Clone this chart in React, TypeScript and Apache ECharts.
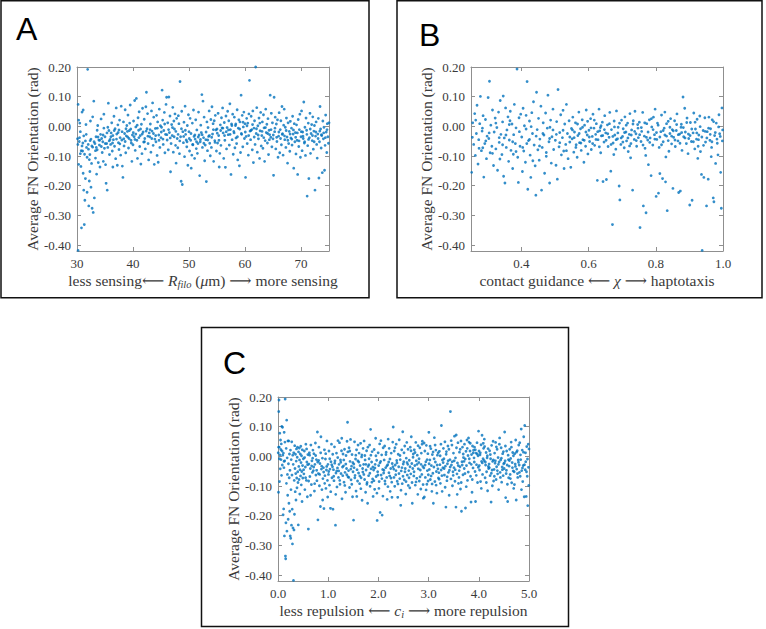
import React, { useEffect, useRef } from 'react';
import * as echarts from 'echarts';

// Panel A: R_filo (µm) vs average FN orientation (rad)
const rfiloPoints: number[][] = [
[30.1,-0.042],[30.2,0.074],[30.3,-0.128],[30.2,-0.418],[30.4,-0.051],[30.5,0.011],[30.6,-0.092],[30.7,-0.135],[30.8,-0.342],[30.9,0.048],[30.9,-0.066],[30.3,0.021],[30.6,-0.018],
[31.0,-0.083],[31.1,-0.158],[31.2,-0.032],[31.3,-0.331],[31.4,-0.249],[31.5,-0.176],[31.6,0.006],[31.7,-0.071],[31.8,-0.104],[31.9,0.192],[31.2,-0.215],[31.5,-0.049],[31.8,-0.222],[31.1,0.055],
[32.0,-0.061],[32.1,-0.268],[32.2,-0.184],[32.3,-0.095],[32.4,0.018],[32.5,-0.043],[32.6,-0.125],[32.7,-0.276],[32.8,-0.07],[32.9,-0.29],[32.2,-0.112],[32.5,-0.205],[32.8,0.032],[32.3,-0.152],
[33.0,0.085],[33.1,-0.241],[33.2,-0.058],[33.3,-0.107],[33.4,-0.035],[33.5,-0.161],[33.6,-0.079],[33.7,0.003],[33.8,-0.122],[33.9,-0.046],[33.3,-0.082],[33.6,-0.013],
[34.0,-0.063],[34.1,-0.137],[34.2,-0.027],[34.3,0.025],[34.5,-0.088],[34.6,-0.052],[34.7,-0.118],[34.8,-0.006],[34.9,-0.074],[34.4,-0.041],[34.8,0.041],
[35.0,-0.035],[35.2,-0.192],[35.3,-0.058],[35.4,-0.215],[35.5,-0.071],[35.6,0.078],[35.7,-0.014],[35.8,-0.095],[35.9,-0.044],[35.1,-0.129],[35.5,-0.003],
[36.0,-0.061],[36.1,-0.022],[36.2,0.012],[36.3,-0.083],[36.4,-0.137],[36.5,-0.045],[36.6,0.034],[36.7,-0.067],[36.8,-0.008],[36.9,-0.109],[36.4,-0.031],
[37.0,0.062],[37.1,-0.026],[37.2,-0.131],[37.3,0.005],[37.4,-0.055],[37.5,-0.078],[37.6,0.021],[37.7,-0.038],[37.8,-0.097],[37.9,0.068],[37.5,-0.012],
[38.0,-0.046],[38.2,-0.172],[38.3,0.015],[38.4,-0.066],[38.5,-0.024],[38.6,0.056],[38.7,-0.089],[38.8,-0.032],[38.9,0.003],[38.1,-0.134],[38.6,-0.051],
[39.0,-0.017],[39.1,0.038],[39.2,-0.073],[39.3,-0.041],[39.5,0.072],[39.6,-0.009],[39.7,-0.056],[39.8,-0.118],[39.9,-0.029],[39.4,0.011],
[40.0,-0.062],[40.1,0.018],[40.2,-0.035],[40.3,0.087],[40.4,-0.081],[40.5,-0.002],[40.6,0.094],[40.7,-0.047],[40.8,-0.108],[40.9,0.029],[40.5,-0.026],
[41.0,-0.013],[41.1,0.049],[41.2,-0.068],[41.3,-0.031],[41.5,0.007],[41.6,-0.092],[41.7,0.061],[41.8,-0.019],[41.9,-0.053],[41.4,-0.127],
[42.0,0.024],[42.1,-0.041],[42.2,-0.076],[42.4,0.115],[42.5,-0.008],[42.6,0.043],[42.7,-0.058],[42.8,-0.113],[42.9,-0.022],[42.3,0.066],
[43.0,-0.035],[43.1,0.008],[43.2,-0.087],[43.3,0.052],[43.4,-0.016],[43.6,-0.064],[43.7,0.031],[43.8,-0.128],[43.9,-0.043],[43.5,0.079],
[44.0,-0.007],[44.1,-0.052],[44.2,0.037],[44.3,-0.098],[44.4,0.015],[44.6,-0.029],[44.7,0.058],[44.8,-0.071],[44.9,0.002],[44.5,-0.121],
[45.0,-0.038],[45.2,0.122],[45.3,0.021],[45.4,-0.061],[45.5,-0.014],[45.6,0.047],[45.7,-0.089],[45.8,-0.027],[45.9,0.074],[45.1,-0.003],
[46.0,0.098],[46.1,-0.046],[46.2,0.012],[46.3,-0.079],[46.4,0.099],[46.5,-0.021],[46.6,0.035],[46.7,-0.153],[46.8,-0.058],[46.9,0.006],
[47.0,-0.031],[47.1,0.064],[47.2,-0.087],[47.3,0.018],[47.4,-0.009],[47.5,0.042],[47.6,-0.064],[47.7,-0.124],[47.8,0.027],[47.9,-0.041],
[48.0,-0.072],[48.2,0.009],[48.4,0.151],[48.5,-0.035],[48.6,-0.185],[48.7,0.051],[48.8,-0.196],[48.9,-0.018],[48.3,-0.092],[48.1,0.036],
[49.0,-0.055],[49.1,0.014],[49.2,-0.102],[49.3,0.068],[49.4,-0.027],[49.6,-0.069],[49.7,0.003],[49.8,-0.131],[49.9,0.039],[49.5,-0.046],
[50.0,-0.018],[50.1,-0.083],[50.2,0.027],[50.3,-0.047],[50.4,-0.141],[50.6,0.011],[50.7,-0.062],[50.8,0.055],[50.9,-0.034],[50.5,-0.097],
[51.0,-0.108],[51.1,-0.043],[51.2,0.022],[51.3,-0.075],[51.4,-0.012],[51.6,-0.058],[51.7,0.048],[51.8,-0.029],[51.9,-0.166],[51.5,-0.091],
[52.0,-0.052],[52.1,0.004],[52.3,0.107],[52.4,-0.071],[52.5,0.085],[52.6,-0.038],[52.7,0.031],[52.8,-0.116],[52.9,-0.063],[52.2,-0.021],
[53.0,-0.045],[53.1,-0.186],[53.2,0.015],[53.3,-0.082],[53.4,-0.004],[53.6,0.052],[53.7,-0.057],[53.8,-0.099],[53.9,0.023],[53.5,-0.034],
[54.0,-0.071],[54.1,0.066],[54.2,-0.026],[54.3,0.009],[54.4,-0.118],[54.6,-0.048],[54.7,0.037],[54.8,-0.012],[54.9,-0.083],[54.5,0.019],
[55.0,-0.009],[55.1,-0.056],[55.2,0.044],[55.3,-0.031],[55.4,-0.137],[55.6,0.005],[55.7,-0.064],[55.8,0.029],[55.9,-0.005],[55.5,-0.091],
[56.0,0.062],[56.1,-0.022],[56.2,-0.108],[56.3,0.013],[56.4,-0.047],[56.6,0.035],[56.7,-0.076],[56.8,-0.004],[56.9,0.051],[56.5,-0.138],
[57.0,-0.028],[57.1,0.019],[57.2,-0.063],[57.3,0.076],[57.4,-0.011],[57.5,-0.162],[57.6,0.008],[57.7,-0.045],[57.8,0.041],[57.9,-0.094],
[58.0,-0.017],[58.1,0.031],[58.2,-0.072],[58.3,0.003],[58.4,-0.039],[58.6,0.056],[58.7,-0.113],[58.8,-0.006],[58.9,0.022],[58.5,-0.058],
[59.0,-0.133],[59.1,0.015],[59.3,0.105],[59.4,-0.027],[59.5,0.037],[59.6,-0.069],[59.7,-0.002],[59.8,0.048],[59.9,-0.041],[59.2,-0.088],
[60.0,0.009],[60.1,-0.172],[60.2,-0.034],[60.3,0.027],[60.4,-0.058],[60.5,0.011],[60.6,-0.097],[60.8,0.155],[60.9,-0.016],[60.7,0.042],
[61.0,-0.045],[61.1,0.034],[61.2,-0.011],[61.3,-0.079],[61.4,0.052],[61.5,-0.122],[61.6,-0.006],[61.7,0.019],[61.9,0.2],[61.8,-0.061],
[62.0,-0.024],[62.1,0.063],[62.2,-0.087],[62.3,0.002],[62.4,-0.042],[62.5,0.028],[62.6,-0.108],[62.7,-0.015],[62.8,0.047],[62.9,-0.066],
[63.0,-0.031],[63.1,0.015],[63.2,-0.074],[63.3,0.039],[63.4,-0.005],[63.5,-0.118],[63.6,-0.048],[63.7,0.058],[63.8,-0.021],[63.9,0.007],
[64.0,-0.056],[64.1,0.026],[64.2,-0.095],[64.3,-0.013],[64.5,0.105],[64.6,-0.037],[64.7,0.044],[64.8,-0.069],[64.9,0.012],[64.4,-0.028],
[65.0,-0.042],[65.1,-0.165],[65.2,0.098],[65.3,-0.018],[65.4,0.031],[65.5,-0.076],[65.6,0.008],[65.7,-0.051],[65.8,0.022],[65.9,-0.104],
[66.0,-0.033],[66.1,0.046],[66.2,-0.089],[66.3,-0.011],[66.4,0.019],[66.5,-0.062],[66.6,0.067],[66.7,-0.025],[66.8,-0.097],[66.9,0.004],
[67.0,0.058],[67.1,-0.045],[67.2,-0.003],[67.3,-0.071],[67.4,0.028],[67.5,-0.036],[67.6,-0.124],[67.7,0.012],[67.8,-0.058],[67.9,-0.017],
[68.0,-0.084],[68.1,0.017],[68.2,-0.039],[68.3,-0.006],[68.4,-0.063],[68.5,0.034],[68.6,-0.026],[68.7,-0.141],[68.8,0.009],[68.9,-0.052],
[69.0,-0.021],[69.1,-0.093],[69.2,0.005],[69.3,-0.047],[69.4,-0.162],[69.5,0.023],[69.6,-0.068],[69.7,-0.011],[69.8,0.041],[69.9,-0.104],
[70.0,-0.035],[70.1,0.052],[70.2,-0.082],[70.3,-0.019],[70.5,0.082],[70.6,-0.056],[70.7,-0.003],[70.8,-0.098],[70.9,0.028],[70.4,-0.041],
[71.0,-0.013],[71.1,-0.235],[71.2,-0.065],[71.3,0.011],[71.4,-0.176],[71.5,-0.038],[71.6,0.044],[71.7,-0.091],[71.8,-0.024],[71.9,0.006],
[72.0,-0.048],[72.1,0.032],[72.2,-0.077],[72.3,-0.016],[72.5,-0.215],[72.6,-0.033],[72.7,0.015],[72.8,-0.061],[72.9,-0.107],[72.4,0.003],
[73.0,-0.026],[73.1,0.027],[73.2,-0.174],[73.3,-0.052],[73.4,0.067],[73.5,-0.009],[73.6,-0.073],[73.7,-0.031],[73.8,-0.156],[73.9,0.018],
[74.0,-0.042],[74.1,-0.003],[74.2,-0.148],[74.3,-0.064],[74.4,0.038],[74.5,-0.019],[74.6,-0.088],[74.7,0.009],[74.8,-0.035],[74.9,-0.057],[75.0,0.012],
[30.15,-0.061],[30.45,-0.038],[30.75,-0.082],[31.05,-0.056],[31.35,-0.094],[31.65,-0.027],[32.05,-0.077],[32.35,-0.048],[32.65,-0.066],
[33.05,-0.052],[33.45,-0.071],[33.75,-0.036],[34.05,-0.047],[34.35,-0.068],[34.65,-0.029],[35.05,-0.058],[35.35,-0.022],[35.75,-0.049],
[36.05,-0.035],[36.35,-0.056],[36.65,-0.014],[37.05,-0.043],[37.35,-0.021],[37.65,-0.059],[38.05,-0.018],[38.35,-0.042],[38.75,-0.008],
[39.05,-0.036],[39.35,-0.014],[39.65,-0.047],[40.05,-0.021],[40.35,-0.044],[40.75,0.004],[41.05,-0.038],[41.35,-0.009],[41.65,-0.026],
[42.05,-0.052],[42.35,-0.016],[42.65,-0.033],[43.05,-0.011],[43.35,-0.041],[43.65,-0.024],[44.05,-0.031],[44.35,-0.006],[44.65,-0.047],
[45.05,-0.019],[45.35,-0.043],[45.65,0.008],[46.05,-0.028],[46.35,-0.011],[46.65,-0.039],[47.05,-0.004],[47.35,-0.035],[47.65,-0.017],
[48.05,-0.027],[48.35,-0.049],[48.65,-0.008],[49.05,-0.034],[49.35,-0.013],[49.65,-0.052],[50.05,-0.041],[50.35,-0.024],[50.65,-0.061],
[51.05,-0.029],[51.35,-0.052],[51.65,-0.036],[52.05,-0.044],[52.35,-0.028],[52.65,-0.057],[53.05,-0.019],[53.35,-0.046],[53.65,-0.031],
[54.05,-0.037],[54.35,-0.011],[54.65,-0.054],[55.05,-0.023],[55.35,-0.047],[55.65,-0.014],[56.05,-0.006],[56.35,-0.031],[56.65,-0.018],
[57.05,-0.012],[57.35,-0.027],[57.65,0.003],[58.05,-0.022],[58.35,0.008],[58.65,-0.035],[59.05,-0.009],[59.35,-0.024],[59.65,0.014],
[60.05,-0.019],[60.35,0.002],[60.65,-0.031],[61.05,-0.014],[61.35,0.006],[61.65,-0.036],[62.05,-0.008],[62.35,-0.029],[62.65,0.011],
[63.05,-0.017],[63.35,-0.038],[63.65,-0.004],[64.05,-0.024],[64.35,-0.045],[64.65,-0.011],[65.05,-0.029],[65.35,-0.006],[65.65,-0.037],
[66.05,-0.019],[66.35,-0.041],[66.65,-0.027],[67.05,-0.032],[67.35,-0.014],[67.65,-0.047],[68.05,-0.026],[68.35,-0.043],[68.65,-0.012],
[69.05,-0.037],[69.35,-0.022],[69.65,-0.049],[70.05,-0.018],[70.35,-0.033],[70.65,-0.052],[71.05,-0.027],[71.35,-0.044],[71.65,-0.009],
[72.05,-0.031],[72.35,-0.052],[72.65,-0.019],[73.05,-0.041],[73.35,-0.016],[73.65,-0.028],[74.05,-0.022],[74.35,-0.038],[74.65,-0.011]
];

// Panel B: chi vs average FN orientation (rad)
const chiPoints: number[][] = [
[0.252,-0.155],[0.255,0.012],[0.258,-0.061],[0.261,0.043],[0.263,-0.098],[0.266,-0.024],[0.268,0.071],[0.271,-0.127],[0.273,-0.045],[0.276,0.009],[0.278,0.101],[0.281,-0.082],[0.283,-0.016],[0.286,0.036],[0.288,-0.171],[0.291,-0.058],[0.293,0.023],[0.296,-0.109],[0.298,-0.033],[0.285,-0.072],
[0.254,-0.037],[0.264,0.021],[0.274,-0.074],[0.284,-0.006],[0.294,-0.049],
[0.301,0.097],[0.303,-0.041],[0.305,0.152],[0.307,-0.089],[0.309,0.004],[0.312,-0.067],[0.314,0.055],[0.317,-0.132],[0.319,-0.019],[0.322,0.028],[0.324,-0.076],[0.327,-0.004],[0.329,-0.148],[0.332,0.048],[0.334,-0.054],[0.337,0.087],[0.339,-0.027],[0.342,-0.095],[0.344,0.015],[0.347,-0.168],[0.349,-0.039],[0.346,0.102],[0.336,-0.11],
[0.304,-0.022],[0.314,-0.091],[0.324,0.011],[0.334,-0.038],[0.344,-0.062],
[0.351,-0.191],[0.353,0.062],[0.355,-0.071],[0.357,-0.012],[0.36,0.032],[0.362,-0.118],[0.364,-0.046],[0.367,0.051],[0.369,-0.081],[0.372,0.008],[0.374,-0.142],[0.377,-0.028],[0.379,0.074],[0.382,-0.058],[0.384,-0.005],[0.387,0.193],[0.389,-0.104],[0.391,-0.189],[0.393,0.029],[0.396,-0.067],[0.398,0.041],[0.376,-0.094],[0.366,0.019],
[0.354,-0.029],[0.364,0.006],[0.374,-0.052],[0.384,-0.085],[0.394,-0.018],
[0.401,-0.036],[0.403,-0.152],[0.405,0.061],[0.407,-0.083],[0.409,0.002],[0.412,-0.121],[0.414,0.037],[0.417,0.151],[0.419,-0.212],[0.421,-0.048],[0.424,0.018],[0.426,-0.097],[0.428,-0.172],[0.431,0.046],[0.433,-0.024],[0.436,0.083],[0.438,-0.063],[0.441,-0.133],[0.443,-0.232],[0.445,0.115],[0.447,-0.011],[0.449,-0.079],[0.429,-0.001],[0.416,-0.058],
[0.404,-0.071],[0.414,-0.009],[0.424,-0.044],[0.434,-0.116],[0.444,-0.033],
[0.451,0.027],[0.453,-0.114],[0.455,-0.043],[0.458,0.068],[0.46,-0.215],[0.462,-0.071],[0.465,0.012],[0.467,-0.029],[0.469,-0.158],[0.472,0.045],[0.474,-0.088],[0.477,-0.006],[0.479,0.105],[0.482,-0.052],[0.484,-0.191],[0.487,0.021],[0.489,-0.124],[0.491,-0.035],[0.494,0.058],[0.496,-0.078],[0.498,0.203],[0.485,-0.003],
[0.454,-0.066],[0.464,-0.024],[0.474,-0.101],[0.484,-0.041],[0.494,-0.012],
[0.501,-0.047],[0.503,-0.131],[0.505,0.016],[0.507,-0.178],[0.509,0.124],[0.512,-0.069],[0.514,-0.021],[0.517,0.039],[0.519,-0.096],[0.522,-0.038],[0.524,0.054],[0.527,-0.142],[0.529,0.008],[0.532,-0.061],[0.534,0.074],[0.537,-0.024],[0.539,-0.109],[0.542,0.019],[0.544,-0.053],[0.547,-0.138],[0.549,-0.007],[0.526,-0.083],
[0.504,-0.027],[0.514,-0.055],[0.524,-0.013],[0.534,-0.082],[0.544,-0.036],
[0.551,-0.042],[0.553,0.031],[0.556,-0.087],[0.558,-0.019],[0.561,0.012],[0.563,-0.062],[0.566,-0.104],[0.568,-0.031],[0.571,0.048],[0.573,-0.055],[0.576,-0.008],[0.578,-0.081],[0.581,0.022],[0.583,-0.045],[0.586,-0.121],[0.588,0.004],[0.591,-0.067],[0.593,0.055],[0.596,-0.029],[0.598,-0.093],
[0.552,-0.012],[0.557,-0.038],[0.562,-0.071],[0.567,0.008],[0.572,-0.024],[0.577,-0.056],[0.582,-0.003],[0.587,-0.047],[0.592,-0.019],[0.597,0.017],
[0.601,-0.013],[0.603,-0.051],[0.606,0.026],[0.608,-0.078],[0.611,-0.034],[0.613,0.041],[0.616,-0.006],[0.618,-0.064],[0.621,-0.027],[0.623,0.009],[0.626,-0.182],[0.628,-0.045],[0.631,0.058],[0.633,-0.015],[0.636,-0.089],[0.638,-0.032],[0.641,0.014],[0.643,-0.186],[0.646,-0.053],[0.648,0.036],[0.635,-0.004],
[0.602,-0.036],[0.607,-0.005],[0.612,-0.058],[0.617,0.021],[0.622,-0.044],[0.627,-0.018],[0.632,-0.069],[0.637,0.002],[0.642,-0.031],[0.647,-0.011],
[0.651,-0.022],[0.653,-0.179],[0.656,0.005],[0.658,-0.068],[0.661,-0.037],[0.663,0.047],[0.666,-0.151],[0.668,-0.011],[0.671,-0.331],[0.673,-0.056],[0.676,0.018],[0.678,-0.029],[0.681,-0.077],[0.683,0.052],[0.686,-0.042],[0.688,-0.003],[0.691,-0.201],[0.693,-0.248],[0.696,-0.061],[0.698,0.021],[0.675,-0.095],
[0.652,-0.047],[0.657,-0.025],[0.662,0.009],[0.667,-0.061],[0.672,-0.034],[0.677,-0.002],[0.682,-0.045],[0.687,-0.022],[0.692,0.011],[0.697,-0.039],
[0.701,-0.034],[0.703,-0.008],[0.706,-0.072],[0.708,0.032],[0.711,-0.019],[0.713,-0.049],[0.716,0.011],[0.718,-0.085],[0.721,-0.027],[0.723,0.043],[0.726,-0.058],[0.728,-0.012],[0.731,-0.215],[0.733,0.019],[0.736,-0.044],[0.738,0.051],[0.741,-0.025],[0.743,-0.067],[0.746,0.006],[0.748,-0.038],[0.725,-0.106],
[0.702,-0.053],[0.707,-0.021],[0.712,0.004],[0.717,-0.039],[0.722,-0.066],[0.727,-0.029],[0.732,0.008],[0.737,-0.017],[0.742,-0.048],[0.747,-0.006],
[0.751,0.014],[0.753,-0.341],[0.756,-0.051],[0.758,-0.017],[0.761,0.047],[0.763,-0.268],[0.766,-0.033],[0.768,-0.074],[0.771,-0.291],[0.773,0.009],[0.776,-0.046],[0.778,-0.129],[0.781,0.022],[0.783,-0.039],[0.786,-0.166],[0.788,-0.002],[0.791,-0.063],[0.793,0.031],[0.796,-0.028],[0.798,0.058],[0.77,-0.098],
[0.752,-0.028],[0.757,-0.004],[0.762,-0.063],[0.767,0.012],[0.772,-0.037],[0.777,-0.019],[0.782,-0.054],[0.787,0.026],[0.792,-0.011],[0.797,-0.043],
[0.801,-0.236],[0.803,-0.044],[0.805,0.011],[0.808,-0.225],[0.81,-0.071],[0.812,-0.159],[0.815,-0.018],[0.817,0.038],[0.82,-0.176],[0.822,-0.052],[0.825,-0.006],[0.827,0.048],[0.829,-0.187],[0.832,-0.033],[0.834,-0.284],[0.837,0.017],[0.839,-0.084],[0.842,-0.024],[0.844,0.026],[0.847,-0.059],[0.849,-0.011],[0.83,-0.103],
[0.802,-0.021],[0.807,0.004],[0.812,-0.036],[0.817,-0.062],[0.822,-0.014],[0.827,-0.029],[0.832,0.009],[0.837,-0.048],[0.842,-0.003],[0.847,-0.033],
[0.851,-0.209],[0.853,-0.037],[0.856,0.019],[0.858,-0.068],[0.861,-0.014],[0.863,0.042],[0.866,-0.049],[0.868,-0.223],[0.871,-0.026],[0.873,-0.218],[0.876,0.007],[0.878,-0.081],[0.881,0.099],[0.883,-0.035],[0.886,0.061],[0.888,-0.019],[0.891,-0.058],[0.893,0.028],[0.896,-0.092],[0.898,-0.041],[0.875,-0.003],
[0.852,-0.015],[0.857,-0.046],[0.862,0.006],[0.867,-0.028],[0.872,-0.057],[0.877,-0.021],[0.882,-0.004],[0.887,-0.039],[0.892,0.013],[0.897,-0.026],
[0.901,-0.265],[0.903,0.013],[0.906,-0.051],[0.908,-0.249],[0.911,-0.022],[0.913,0.045],[0.916,-0.076],[0.918,-0.009],[0.921,-0.043],[0.923,0.024],[0.926,-0.067],[0.928,-0.029],[0.931,0.035],[0.933,-0.085],[0.936,-0.162],[0.938,-0.418],[0.941,-0.014],[0.943,-0.172],[0.946,0.029],[0.948,-0.053],[0.925,-0.108],
[0.902,-0.031],[0.907,-0.009],[0.912,-0.052],[0.917,0.014],[0.922,-0.022],[0.927,-0.045],[0.932,-0.001],[0.937,-0.036],[0.942,-0.064],[0.947,-0.017],
[0.951,-0.268],[0.953,-0.018],[0.956,-0.178],[0.958,0.031],[0.961,-0.047],[0.963,-0.008],[0.966,-0.071],[0.968,0.022],[0.971,-0.241],[0.973,-0.254],[0.975,-0.031],[0.978,-0.125],[0.98,0.011],[0.983,-0.057],[0.985,-0.096],[0.988,0.039],[0.99,-0.025],[0.993,-0.155],[0.995,-0.276],[0.997,0.062],[0.999,-0.012],[0.965,-0.102],
[0.952,-0.039],[0.957,-0.006],[0.962,-0.027],[0.967,-0.052],[0.972,0.016],[0.977,-0.021],[0.982,-0.043],[0.987,-0.002],[0.992,-0.034],[0.998,-0.049]
];

// Panel C: c_i vs average FN orientation (rad)
const ciPoints: number[][] = [
[0.005,0.012],[0.01,-0.121],[0.015,0.151],[0.02,0.19],[0.025,0.031],[0.03,-0.085],[0.035,0.078],[0.04,0.005],[0.045,-0.042],[0.05,0.055],[0.055,0.023],[0.06,-0.011],[0.065,0.042],[0.07,-0.064],[0.075,0.101],[0.08,0.018],[0.085,-0.029],[0.09,0.098],[0.095,0.004],[0.012,0.031],[0.028,-0.008],
[0.102,-0.197],[0.108,0.011],[0.113,-0.177],[0.118,-0.038],[0.123,0.081],[0.128,-0.268],[0.133,-0.015],[0.138,0.048],[0.143,0.193],[0.148,-0.336],[0.153,-0.345],[0.158,-0.224],[0.163,0.027],[0.168,-0.091],[0.173,0.122],[0.178,-0.252],[0.183,-0.005],[0.188,-0.061],[0.193,-0.131],[0.198,0.052],[0.12,-0.017],
[0.203,-0.212],[0.208,-0.025],[0.213,0.052],[0.218,-0.158],[0.223,-0.072],[0.228,0.008],[0.233,-0.185],[0.238,-0.047],[0.243,-0.268],[0.248,0.021],[0.253,-0.276],[0.258,-0.112],[0.263,-0.011],[0.268,-0.232],[0.273,0.049],[0.278,-0.063],[0.283,-0.178],[0.288,-0.295],[0.293,0.004],[0.298,-0.241],
[0.303,-0.027],[0.308,-0.418],[0.313,0.012],[0.318,-0.248],[0.323,-0.081],[0.328,-0.195],[0.333,0.036],[0.338,-0.041],[0.343,-0.119],[0.348,0.007],[0.353,-0.058],[0.358,-0.147],[0.363,-0.016],[0.368,0.025],[0.373,-0.073],[0.378,-0.106],[0.383,-0.003],[0.388,0.031],[0.393,-0.052],[0.398,-0.088],
[0.404,-0.231],[0.409,0.015],[0.414,-0.034],[0.419,-0.078],[0.424,0.028],[0.429,-0.012],[0.434,-0.127],[0.439,-0.045],[0.444,0.008],[0.449,-0.066],[0.454,0.034],[0.459,-0.021],[0.464,-0.096],[0.469,0.002],[0.474,-0.051],[0.479,-0.152],[0.484,0.022],[0.489,-0.031],[0.494,-0.073],
[0.505,-0.008],[0.515,-0.059],[0.525,0.018],[0.535,-0.112],[0.545,-0.036],[0.555,0.041],[0.565,-0.081],[0.575,-0.019],[0.585,-0.136],[0.595,0.006],[0.51,-0.045],[0.53,-0.004],[0.55,-0.072],[0.57,0.025],[0.59,-0.028],
[0.605,-0.245],[0.615,-0.026],[0.625,0.012],[0.635,-0.068],[0.645,-0.041],[0.655,0.038],[0.665,-0.095],[0.675,-0.015],[0.685,-0.054],[0.695,0.021],[0.61,-0.083],[0.63,0.004],[0.65,-0.131],[0.67,-0.032],[0.69,-0.006],
[0.705,-0.048],[0.715,0.009],[0.725,-0.117],[0.735,-0.027],[0.745,0.045],[0.755,-0.063],[0.765,-0.011],[0.775,-0.082],[0.785,0.082],[0.795,-0.214],[0.71,-0.036],[0.73,-0.092],[0.75,0.003],[0.77,-0.047],[0.79,-0.019],
[0.805,-0.058],[0.815,0.031],[0.825,-0.099],[0.835,-0.024],[0.845,-0.169],[0.855,0.066],[0.865,-0.043],[0.875,-0.112],[0.885,-0.006],[0.895,-0.075],[0.81,-0.014],[0.83,-0.061],[0.85,0.012],[0.87,-0.033],[0.89,-0.147],
[0.905,-0.038],[0.915,-0.176],[0.925,0.022],[0.935,-0.065],[0.945,-0.009],[0.955,-0.108],[0.965,-0.046],[0.975,0.052],[0.985,-0.081],[0.995,-0.027],[0.91,-0.053],[0.93,-0.091],[0.95,0.009],[0.97,-0.034],[0.99,-0.137],
[1.005,-0.061],[1.015,0.018],[1.025,-0.097],[1.035,-0.043],[1.045,-0.175],[1.055,-0.018],[1.065,0.041],[1.075,-0.072],[1.085,-0.035],[1.095,-0.178],[1.01,-0.051],[1.03,-0.008],[1.05,-0.119],[1.07,-0.028],[1.09,0.007],
[1.105,-0.045],[1.115,-0.082],[1.125,0.032],[1.135,-0.015],[1.145,-0.232],[1.155,-0.056],[1.165,0.011],[1.175,-0.103],[1.185,-0.039],[1.195,0.053],[1.11,-0.067],[1.13,-0.023],[1.15,-0.128],[1.17,-0.049],[1.19,-0.004],
[1.205,-0.071],[1.215,-0.027],[1.225,0.046],[1.235,-0.094],[1.245,-0.012],[1.255,-0.058],[1.265,0.019],[1.275,-0.143],[1.285,-0.036],[1.295,0.008],[1.21,-0.049],[1.23,-0.081],[1.25,-0.02],[1.27,0.061],[1.29,-0.065],
[1.305,-0.032],[1.315,-0.087],[1.325,0.024],[1.335,-0.054],[1.345,-0.121],[1.355,0.003],[1.365,-0.041],[1.375,0.051],[1.385,0.115],[1.395,-0.069],[1.31,-0.012],[1.33,-0.098],[1.35,-0.026],[1.37,-0.062],[1.39,0.015],
[1.405,-0.048],[1.415,0.029],[1.425,-0.105],[1.435,-0.017],[1.445,0.057],[1.455,-0.079],[1.465,-0.033],[1.475,0.006],[1.485,-0.136],[1.495,-0.052],[1.41,-0.071],[1.43,0.018],[1.45,-0.043],[1.47,-0.094],[1.49,-0.021],
[1.505,-0.215],[1.515,-0.038],[1.525,0.049],[1.535,-0.064],[1.545,-0.009],[1.555,-0.117],[1.565,0.022],[1.575,-0.045],[1.585,-0.083],[1.595,0.038],[1.51,-0.026],[1.53,-0.072],[1.55,0.004],[1.57,-0.135],[1.59,-0.015],
[1.605,-0.056],[1.615,0.011],[1.625,-0.092],[1.635,-0.031],[1.645,0.044],[1.655,-0.072],[1.665,-0.002],[1.675,-0.148],[1.685,-0.041],[1.695,0.027],[1.61,-0.019],[1.63,-0.066],[1.65,-0.109],[1.67,0.005],[1.69,-0.053],
[1.705,-0.027],[1.715,0.052],[1.725,-0.078],[1.735,-0.012],[1.745,-0.121],[1.755,-0.046],[1.765,0.019],[1.775,-0.088],[1.785,-0.158],[1.795,-0.034],[1.71,-0.061],[1.73,0.003],[1.75,-0.027],[1.77,-0.094],[1.79,0.031],
[1.805,-0.065],[1.815,-0.008],[1.825,0.038],[1.835,-0.101],[1.845,0.091],[1.855,-0.042],[1.865,-0.019],[1.875,0.016],[1.885,-0.076],[1.895,-0.135],[1.81,-0.028],[1.83,-0.057],[1.85,0.004],[1.87,-0.087],[1.89,-0.036],
[1.905,-0.046],[1.915,0.023],[1.925,-0.111],[1.935,-0.027],[1.945,0.061],[1.955,-0.068],[1.965,-0.013],[1.975,-0.216],[1.985,-0.052],[1.995,0.012],[1.91,-0.082],[1.93,-0.039],[1.95,0.002],[1.97,-0.124],[1.99,-0.063],
[2.005,-0.031],[2.015,-0.085],[2.025,0.042],[2.035,-0.189],[2.045,-0.017],[2.055,-0.063],[2.065,0.005],[2.075,-0.198],[2.085,-0.044],[2.095,0.029],[2.01,-0.108],[2.03,-0.022],[2.05,0.053],[2.07,-0.075],[2.09,-0.134],
[2.105,-0.056],[2.115,-0.012],[2.125,0.035],[2.135,-0.093],[2.145,-0.038],[2.155,0.014],[2.165,-0.071],[2.175,-0.145],[2.185,-0.028],[2.195,0.058],[2.11,-0.047],[2.13,-0.083],[2.15,0.006],[2.17,-0.032],[2.19,-0.102],
[2.205,-0.019],[2.215,0.027],[2.225,-0.066],[2.235,-0.118],[2.245,-0.041],[2.255,0.011],[2.265,-0.087],[2.275,-0.024],[2.285,0.048],[2.295,0.099],[2.21,-0.055],[2.23,-0.009],[2.25,-0.073],[2.27,-0.138],[2.29,-0.035],
[2.305,-0.043],[2.315,0.018],[2.325,-0.101],[2.335,-0.029],[2.345,-0.062],[2.355,0.041],[2.365,-0.014],[2.375,-0.084],[2.385,-0.138],[2.395,0.007],[2.31,-0.071],[2.33,0.029],[2.35,-0.048],[2.37,-0.022],[2.39,-0.093],
[2.405,-0.035],[2.415,0.056],[2.425,-0.075],[2.435,-0.011],[2.445,-0.165],[2.455,-0.049],[2.465,0.022],[2.475,-0.092],[2.485,0.083],[2.495,-0.026],[2.41,-0.058],[2.43,0.003],[2.45,-0.114],[2.47,-0.038],[2.49,-0.067],
[2.505,-0.018],[2.515,-0.079],[2.525,0.035],[2.535,-0.041],[2.545,-0.127],[2.555,-0.006],[2.565,0.047],[2.575,-0.063],[2.585,-0.027],[2.595,-0.098],[2.51,0.012],[2.53,-0.052],[2.55,-0.085],[2.57,-0.021],[2.59,0.024],
[2.605,-0.048],[2.615,-0.013],[2.625,-0.106],[2.635,0.031],[2.645,-0.059],[2.655,0.066],[2.665,-0.024],[2.675,-0.158],[2.685,-0.041],[2.695,0.008],[2.61,-0.072],[2.63,-0.035],[2.65,0.019],[2.67,-0.088],[2.69,-0.003],
[2.705,-0.066],[2.715,0.022],[2.725,-0.031],[2.735,-0.097],[2.745,0.047],[2.755,-0.015],[2.765,-0.074],[2.775,0.004],[2.785,-0.128],[2.795,-0.042],[2.71,-0.052],[2.73,0.013],[2.75,-0.086],[2.77,-0.027],[2.79,0.036],
[2.805,-0.021],[2.815,-0.083],[2.825,0.029],[2.835,-0.046],[2.845,-0.11],[2.855,0.011],[2.865,-0.061],[2.875,0.051],[2.885,-0.034],[2.895,-0.141],[2.81,-0.008],[2.83,-0.069],[2.85,-0.027],[2.87,0.041],[2.89,-0.095],
[2.905,-0.039],[2.915,-0.137],[2.925,0.018],[2.935,-0.071],[2.945,-0.018],[2.955,0.037],[2.965,-0.094],[2.975,-0.048],[2.985,0.009],[2.995,-0.062],[2.91,0.045],[2.93,-0.029],[2.95,-0.113],[2.97,-0.011],[2.99,-0.083],
[3.005,0.081],[3.015,-0.044],[3.025,-0.012],[3.035,-0.078],[3.045,0.026],[3.055,-0.031],[3.065,-0.118],[3.075,0.006],[3.085,-0.057],[3.095,-0.158],[3.01,-0.025],[3.03,0.034],[3.05,-0.066],[3.07,-0.093],[3.09,0.015],
[3.105,-0.036],[3.115,0.063],[3.125,-0.085],[3.135,-0.019],[3.145,0.021],[3.155,-0.051],[3.165,-0.124],[3.175,0.004],[3.185,-0.042],[3.195,-0.073],[3.11,-0.008],[3.13,0.038],[3.15,-0.097],[3.17,-0.029],[3.19,0.012],
[3.205,-0.055],[3.215,0.017],[3.225,-0.028],[3.235,-0.091],[3.245,0.041],[3.255,0.104],[3.265,-0.065],[3.275,-0.012],[3.285,-0.038],[3.295,0.027],[3.21,-0.077],[3.23,0.002],[3.25,-0.046],[3.27,-0.118],[3.29,-0.021],
[3.305,-0.008],[3.315,-0.063],[3.325,0.049],[3.335,-0.033],[3.345,-0.171],[3.355,0.016],[3.365,-0.082],[3.375,-0.025],[3.385,0.035],[3.395,-0.054],[3.31,-0.041],[3.33,-0.104],[3.35,0.007],[3.37,-0.069],[3.39,-0.015],
[3.405,0.024],[3.415,-0.047],[3.425,-0.011],[3.435,0.151],[3.445,-0.076],[3.455,-0.029],[3.465,0.038],[3.475,-0.099],[3.485,-0.052],[3.495,0.011],[3.41,-0.131],[3.43,-0.036],[3.45,0.053],[3.47,-0.018],[3.49,-0.064],
[3.505,-0.038],[3.515,0.068],[3.525,-0.084],[3.535,-0.005],[3.545,-0.171],[3.555,0.029],[3.565,-0.059],[3.575,-0.022],[3.585,0.046],[3.595,-0.091],[3.51,-0.015],[3.53,-0.045],[3.55,0.072],[3.57,-0.128],[3.59,-0.031],
[3.605,-0.071],[3.615,0.014],[3.625,-0.035],[3.635,-0.11],[3.645,0.052],[3.655,-0.185],[3.665,-0.018],[3.675,0.031],[3.685,-0.062],[3.695,-0.004],[3.61,-0.048],[3.63,0.024],[3.65,-0.088],[3.67,-0.029],[3.69,0.008],
[3.705,-0.017],[3.715,0.041],[3.725,-0.058],[3.735,-0.174],[3.745,0.017],[3.755,-0.031],[3.765,0.055],[3.775,-0.081],[3.785,0.003],[3.795,0.062],[3.71,-0.041],[3.73,-0.009],[3.75,-0.102],[3.77,0.027],[3.79,-0.053],
[3.805,0.048],[3.815,-0.022],[3.825,0.018],[3.835,-0.067],[3.845,-0.154],[3.855,0.006],[3.865,-0.121],[3.875,0.035],[3.885,-0.039],[3.895,0.021],[3.81,-0.008],[3.83,0.044],[3.85,-0.027],[3.87,-0.078],[3.89,0.012],
[3.905,-0.005],[3.915,0.031],[3.925,-0.051],[3.935,-0.152],[3.945,0.011],[3.955,-0.028],[3.965,0.046],[3.975,-0.088],[3.985,0.002],[3.995,0.085],[3.91,-0.019],[3.93,0.022],[3.95,-0.064],[3.97,0.008],[3.99,-0.037],
[4.005,0.018],[4.015,-0.046],[4.025,0.005],[4.035,-0.085],[4.045,0.039],[4.055,-0.017],[4.065,0.071],[4.075,-0.061],[4.085,-0.008],[4.095,0.027],[4.01,-0.031],[4.03,0.012],[4.05,-0.108],[4.07,-0.022],[4.09,0.044],
[4.105,-0.014],[4.115,0.033],[4.125,-0.072],[4.135,-0.029],[4.145,0.013],[4.155,-0.052],[4.165,-0.005],[4.175,-0.116],[4.185,0.026],[4.195,-0.041],[4.11,0.058],[4.13,-0.019],[4.15,-0.088],[4.17,0.002],[4.19,-0.034],
[4.205,-0.026],[4.215,0.019],[4.225,-0.065],[4.235,-0.008],[4.245,-0.154],[4.255,0.037],[4.265,-0.046],[4.275,-0.017],[4.285,0.051],[4.295,-0.083],[4.21,-0.038],[4.23,0.006],[4.25,-0.057],[4.27,-0.099],[4.29,-0.012],
[4.305,-0.044],[4.315,0.011],[4.325,-0.023],[4.335,0.047],[4.345,-0.078],[4.355,-0.035],[4.365,0.024],[4.375,-0.059],[4.385,-0.004],[4.395,-0.112],[4.31,-0.067],[4.33,-0.015],[4.35,0.032],[4.37,-0.048],[4.39,-0.027],
[4.405,-0.019],[4.415,0.062],[4.425,-0.054],[4.435,-0.012],[4.445,0.029],[4.455,-0.087],[4.465,-0.036],[4.475,0.009],[4.485,-0.065],[4.495,-0.025],[4.41,0.041],[4.43,-0.071],[4.45,-0.006],[4.47,-0.045],[4.49,0.016],
[4.505,-0.041],[4.515,0.082],[4.525,-0.015],[4.535,-0.139],[4.545,-0.058],[4.555,0.018],[4.565,-0.029],[4.575,-0.152],[4.585,0.004],[4.595,-0.072],[4.51,-0.022],[4.53,0.035],[4.55,-0.047],[4.57,-0.094],[4.59,-0.011],
[4.605,-0.033],[4.615,0.024],[4.625,-0.061],[4.635,-0.007],[4.645,0.048],[4.655,-0.089],[4.665,-0.021],[4.675,0.013],[4.685,-0.049],[4.695,-0.108],[4.61,-0.014],[4.63,-0.075],[4.65,0.031],[4.67,-0.038],[4.69,0.002],
[4.705,-0.052],[4.715,0.009],[4.725,-0.026],[4.735,0.055],[4.745,-0.147],[4.755,-0.043],[4.765,0.019],[4.775,-0.071],[4.785,-0.012],[4.795,0.038],[4.71,-0.095],[4.73,-0.034],[4.75,0.014],[4.77,-0.058],[4.79,-0.02],
[4.805,-0.029],[4.815,0.046],[4.825,-0.067],[4.835,-0.011],[4.845,0.092],[4.855,-0.048],[4.865,0.021],[4.875,-0.085],[4.885,-0.031],[4.895,0.066],[4.81,-0.054],[4.83,0.005],[4.85,-0.112],[4.87,-0.039],[4.89,0.014],
[4.905,-0.136],[4.915,0.104],[4.925,-0.045],[4.935,-0.018],[4.945,-0.135],[4.955,0.033],[4.965,-0.067],[4.975,-0.166],[4.985,0.041],[4.995,-0.098],[4.91,-0.028],[4.93,0.012],[4.95,-0.052],[4.97,-0.009],[4.99,-0.037],[5.0,0.025]
];

const yTicks = [0.2, 0.1, 0, -0.1, -0.2, -0.3, -0.4];
const xTicksA = [30, 40, 50, 60, 70];
const xTicksB = [0.4, 0.6, 0.8, 1.0];
const xTicksC = [0, 1, 2, 3, 4, 5];
const yName = 'Average FN Orientation (rad)';
const panelLetters = ['A', 'B', 'C'];

const SERIF = "'Liberation Serif', 'DejaVu Serif', serif";
const DOT = '#0072BD';
const AXIS = '#8f8f8f';
const LABEL = '#3a3a3a';
const NAME_SIZE = 15.5;

function richStyles() {
  const base = { fontFamily: SERIF, fontSize: NAME_SIZE, color: LABEL, lineHeight: 20, verticalAlign: 'middle' };
  return {
    t: { ...base },
    i: { ...base, fontStyle: 'italic' },
    s: { fontFamily: SERIF, fontSize: 10.5, color: LABEL, fontStyle: 'italic', lineHeight: 10, verticalAlign: 'bottom' },
  };
}

export default function App() {
  const ref = useRef<HTMLDivElement>(null);
  useEffect(() => {
    if (!ref.current) return;
    const chart = echarts.init(ref.current, undefined, { renderer: 'svg' });

    const grids = [
      { left: 77, top: 67, width: 252, height: 184 },
      { left: 471, top: 67, width: 252, height: 184 },
      { left: 278, top: 397, width: 251, height: 184 },
    ];
    const xRanges = [[30, 75], [0.25, 1.0], [0, 5]];
    const xTicks = [xTicksA, xTicksB, xTicksC];
    const xFmt = [
      (v: number) => String(Math.round(v)),
      (v: number) => v.toFixed(1),
      (v: number) => v.toFixed(1),
    ];
    const xNames = [
      '{t|less sensing⟵ }{i|R}{s|filo}{t| (}{i|μ}{t|m) ⟶ more sensing}',
      '{t|contact guidance ⟵ }{i|χ}{t| ⟶ haptotaxis}',
      '{t|less repulsion ⟵ }{i|c}{s|i}{t| ⟶ more repulsion}',
    ];
    const data = [rfiloPoints, chiPoints, ciPoints];

    const xAxis: any[] = [];
    const yAxis: any[] = [];
    const series: any[] = [];
    const axisLine = { show: true, onZero: false, lineStyle: { color: AXIS, width: 1 } };

    grids.forEach((g, i) => {
      xAxis.push({
        type: 'value', gridIndex: i, position: 'bottom', min: xRanges[i][0], max: xRanges[i][1],
        axisLine, splitLine: { show: false },
        axisTick: { show: true, inside: true, length: 4, customValues: xTicks[i], lineStyle: { color: AXIS } },
        axisLabel: { customValues: xTicks[i], formatter: xFmt[i], margin: 6, fontFamily: SERIF, fontSize: 13, color: LABEL },
        name: xNames[i], nameLocation: 'middle', nameGap: 19,
        nameTextStyle: { fontFamily: SERIF, fontSize: NAME_SIZE, color: LABEL, rich: richStyles() },
      });
      xAxis.push({
        type: 'value', gridIndex: i, position: 'top', min: xRanges[i][0], max: xRanges[i][1],
        axisLine, splitLine: { show: false },
        axisTick: { show: true, inside: true, length: 4, customValues: xTicks[i], lineStyle: { color: AXIS } },
        axisLabel: { show: false },
      });
      yAxis.push({
        type: 'value', gridIndex: i, position: 'left', min: -0.42, max: 0.2,
        axisLine, splitLine: { show: false },
        axisTick: { show: true, inside: true, length: 4, customValues: yTicks, lineStyle: { color: AXIS } },
        axisLabel: { customValues: yTicks, formatter: (v: number) => v.toFixed(2), margin: 6, fontFamily: SERIF, fontSize: 13, color: LABEL },
        name: yName, nameLocation: 'middle', nameGap: 37, nameRotate: 90,
        nameTextStyle: { fontFamily: SERIF, fontSize: NAME_SIZE, color: LABEL },
      });
      yAxis.push({
        type: 'value', gridIndex: i, position: 'right', min: -0.42, max: 0.2,
        axisLine, splitLine: { show: false },
        axisTick: { show: true, inside: true, length: 4, customValues: yTicks, lineStyle: { color: AXIS } },
        axisLabel: { show: false },
      });
      series.push({
        type: 'scatter', xAxisIndex: 2 * i, yAxisIndex: 2 * i, data: data[i],
        symbol: 'circle', symbolSize: 2.8, itemStyle: { color: DOT }, silent: true,
      });
    });

    const boxes = [
      { x: 1, y: 0.75, width: 368, height: 297 },
      { x: 397, y: 0.75, width: 365, height: 297 },
      { x: 201.5, y: 327.5, width: 367, height: 299 },
    ];
    const letterPos = [[16, 29], [419, 35], [223, 363]];

    const graphic: any[] = [];
    boxes.forEach((b) => graphic.push({
      type: 'rect', shape: b, silent: true, z: 100,
      style: { fill: 'none', stroke: '#111', lineWidth: 1.5 },
    }));
    panelLetters.forEach((t, i) => graphic.push({
      type: 'text', x: letterPos[i][0], y: letterPos[i][1], silent: true, z: 100,
      style: { text: t, fontFamily: "'Liberation Sans', Arial, sans-serif", fontSize: 32, fill: '#000', verticalAlign: 'middle', align: 'left' },
    }));

    chart.setOption({
      animation: false,
      backgroundColor: '#ffffff',
      grid: grids,
      xAxis, yAxis, series, graphic,
    });
    return () => chart.dispose();
  }, []);

  return <div ref={ref} style={{ position: 'absolute', left: 0, top: 0, width: 766, height: 629 }} />;
}
